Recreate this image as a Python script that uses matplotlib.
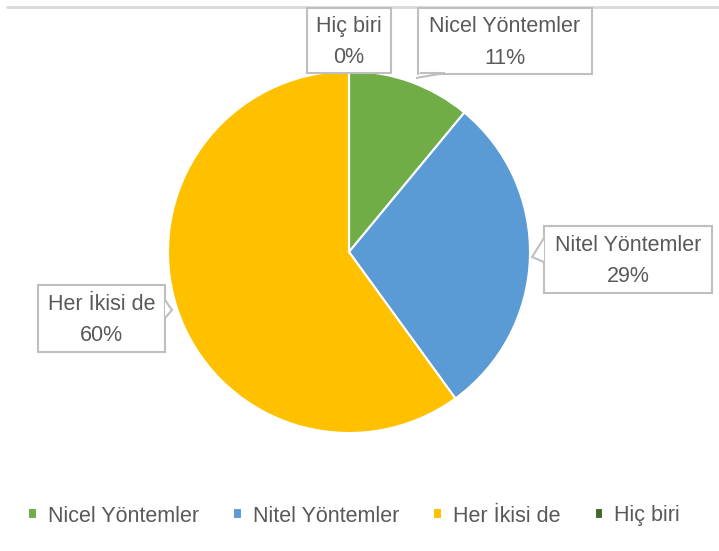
import matplotlib
matplotlib.use("Agg")
import matplotlib.pyplot as plt
from matplotlib.patches import Rectangle, Polygon

# data
categories = ["Nicel Yöntemler", "Nitel Yöntemler", "Her İkisi de", "Hiç biri"]
values = [11, 29, 60, 0]
colors = ["#70AD47", "#5B9BD5", "#FFC000", "#43682B"]

W, H = 719, 551
plt.rcParams['font.family'] = ['Liberation Sans', 'DejaVu Sans']

fig = plt.figure(figsize=(W / 100, H / 100), dpi=100)
ax = fig.add_axes([0, 0, 1, 1])

def Y(y):
    # pixel-from-top to data y
    return H - y

# chart frame top edge
ax.plot([6, W], [Y(7), Y(7)], color="#D9D9D9", lw=2, solid_capstyle="butt")

wedges, _ = ax.pie(values, colors=colors, startangle=90, counterclock=False,
                   center=(349, Y(252)), radius=181,
                   wedgeprops=dict(edgecolor="white", linewidth=1.5))
ax.set_xlim(0, W)
ax.set_ylim(0, H)
ax.set_aspect("auto")
ax.axis("off")

# callout boxes (x0, y0, x1, y1 in pixels from top-left)
boxes = [(418, 8, 592, 74), (544, 226, 712, 293), (38, 285, 165, 352), (307, 8, 391, 73)]
tails = [
    [(420, 73), (445, 73), (416, 78)],
    [(544, 238), (532, 257), (544, 262)],
    [(165, 300), (172, 310), (165, 318)],
    None,
]
for cat, v, (x0, y0, x1, y1), tail in zip(categories, values, boxes, tails):
    ax.add_patch(Rectangle((x0, Y(y1)), x1 - x0, y1 - y0, fc="white",
                           ec="#BFBFBF", lw=1.5, zorder=3))
    if tail:
        ax.add_patch(Polygon([(x, Y(y)) for x, y in tail], closed=False,
                             fc="white", ec="#BFBFBF", lw=1.5, zorder=3))
    cx = (x0 + x1) / 2
    cy = (y0 + y1) / 2
    ax.text(cx, Y(cy - 14), cat, ha="center", va="center", fontsize=15.5,
            color="#595959", zorder=4)
    ax.text(cx, Y(cy + 17), f"{v}%", ha="center", va="center", fontsize=15.5,
            color="#595959", zorder=4)

leg = fig.legend(wedges, categories, loc="center", bbox_to_anchor=(354 / W, 1 - 516 / H),
                 ncol=4, frameon=False, fontsize=15.5, handlelength=0.4, handleheight=0.4,
                 handletextpad=0.5, columnspacing=1.6, labelcolor="#595959")

fig.savefig("out.png", dpi=100)
